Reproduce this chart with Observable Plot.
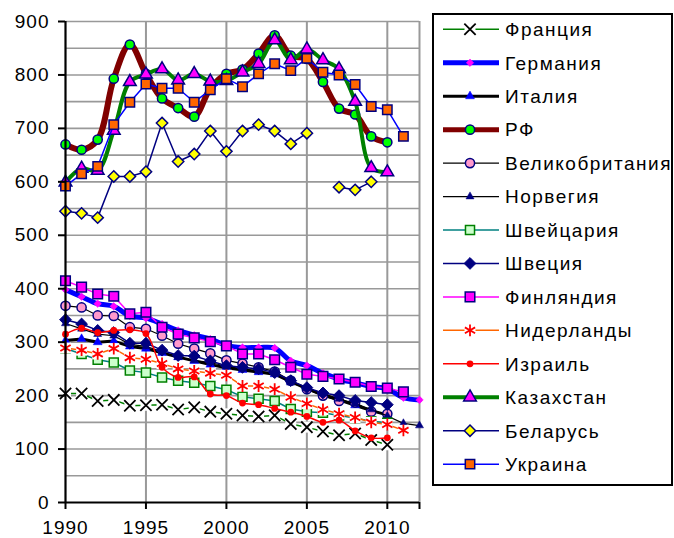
<!DOCTYPE html>
<html><head><meta charset="utf-8">
<script src="https://cdn.jsdelivr.net/npm/d3@7"></script>
<script src="https://cdn.jsdelivr.net/npm/@observablehq/plot@0.6"></script>
<style>
body{margin:0;background:#fff;}
#wrap{position:relative;width:674px;height:538px;font-family:"Liberation Sans",Arial,sans-serif;}
#wrap svg{position:absolute;left:0;top:0;}
</style></head><body><div id="wrap"></div>
<script>
const years = d3.range(1990, 2013);
const xTicks = [1990, 1995, 2000, 2005, 2010];
const yTicks = [0, 100, 200, 300, 400, 500, 600, 700, 800, 900];

const france      = [204,204,190,192,181,182,183,174,178,170,166,163,161,163,147,141,133,126,129,117,108,null,null];
const germany     = [398,385,372,367,349,345,334,322,313,306,294,290,290,289,265,256,242,231,224,217,213,196,192];
const italy       = [303,306,300,302,292,288,280,272,265,258,252,248,244,240,226,213,201,192,182,172,164,null,null];
const russia      = [670,660,679,793,857,802,756,738,722,775,802,810,840,874,836,830,787,737,726,685,674,null,null];
const uk          = [368,365,350,349,328,325,312,297,288,279,266,260,253,245,228,212,200,190,187,170,166,null,null];
const norway      = [335,325,315,312,296,292,282,272,266,262,255,250,246,241,224,214,204,194,185,174,162,148,144];
const switzerland = [288,278,267,262,247,243,234,228,224,218,211,198,194,190,175,170,168,163,158,152,149,null,null];
const sweden      = [342,334,322,318,298,298,285,275,274,265,256,253,250,243,228,215,205,200,191,187,183,null,null];
const finland     = [415,403,390,386,353,356,328,315,308,301,293,278,278,267,253,240,236,231,225,217,214,207,null];
const netherlands = [289,285,278,288,271,268,260,250,246,242,238,218,218,212,197,185,174,166,159,150,146,135,null];
const israel      = [315,326,318,322,323,316,253,234,235,203,200,186,183,176,169,161,150,154,134,121,121,null,null];
const kazakhstan  = [599,625,621,696,787,801,811,790,802,788,789,805,821,865,828,848,828,811,750,626,618,null,null];
const belarus     = [545,541,533,610,610,619,710,638,652,695,657,695,707,695,671,691,null,590,585,600,null,null,null];
const ukraine     = [592,615,629,707,749,783,775,775,749,772,793,778,802,821,808,831,805,800,782,741,735,685,null];

const names = ["Франция","Германия","Италия","РФ","Великобритания","Норвегия","Швейцария","Швеция","Финляндия","Нидерланды","Израиль","Казахстан","Беларусь","Украина"];
const values = [france,germany,italy,russia,uk,norway,switzerland,sweden,finland,netherlands,israel,kazakhstan,belarus,ukraine];

const styles = [
  {line:"#008000", lw:1.5, sym:"times", r:5.2, fill:"none", stroke:"#000000", sw:1.8, bg:true},
  {line:"#0000FF", lw:5, curve:true, sym:"diamond2", r:3.4, fill:"#FF00FF", stroke:"#FF00FF", sw:0.5},
  {line:"#000000", lw:3, sym:"triangle", r:3.3, fill:"#0000FF", stroke:"#0000FF", sw:0.5},
  {line:"#800000", lw:6, curve:true, sym:"circle", r:4.6, fill:"#00FF00", stroke:"#000080", sw:1.5},
  {line:"#000000", lw:1.2, sym:"circle", r:4.6, fill:"#FF99CC", stroke:"#000080", sw:1.5},
  {line:"#000000", lw:1.2, sym:"triangle", r:3, fill:"#000080", stroke:"#000080", sw:0.5},
  {line:"#008080", lw:1.5, sym:"square", r:5.1, fill:"#CCFFCC", stroke:"#008000", sw:1.5},
  {line:"#000080", lw:1.5, sym:"diamond2", r:5.3, fill:"#000080", stroke:"#000080", sw:1},
  {line:"#FF00FF", lw:1.5, sym:"square", r:5.4, fill:"#FF00FF", stroke:"#000080", sw:1.5},
  {line:"#FF6600", lw:1.5, sym:"asterisk", r:5.6, fill:"none", stroke:"#FF0000", sw:1.8, bg:true},
  {line:"#FF0000", lw:1.5, curve:true, sym:"circle", r:3.4, fill:"#FF0000", stroke:"#FF0000", sw:0},
  {line:"#008000", lw:4, curve:true, sym:"triangle", r:4.7, fill:"#FF00FF", stroke:"#000080", sw:1.5},
  {line:"#000080", lw:1.5, sym:"diamond2", r:5.1, fill:"#FFFF00", stroke:"#000080", sw:1.5},
  {line:"#0000FF", lw:1.5, sym:"square", r:5.3, fill:"#FF6600", stroke:"#000080", sw:1.5}
];

const seriesMarks = [];
names.forEach((name, i) => {
  const data = years.map((y, j) => ({year: y, value: values[i][j]}));
  const s = styles[i];
  seriesMarks.push(Plot.line(data, {x: "year", y: "value", stroke: s.line, strokeWidth: s.lw,
    curve: s.curve ? "catmull-rom" : "linear", strokeLinejoin: "round"}));
  const pts = data.filter(d => d.value != null);
  if (s.bg) seriesMarks.push(Plot.dot(pts, {x: "year", y: "value", symbol: "square", r: 6.2, fill: "#fff", stroke: "none"}));
  seriesMarks.push(Plot.dot(pts, {x: "year", y: "value", symbol: s.sym, r: s.r, fill: s.fill, stroke: s.stroke, strokeWidth: s.sw}));
});

const chart = Plot.plot({
  width: 430, height: 538,
  marginLeft: 65, marginRight: 11, marginTop: 21, marginBottom: 36,
  x: {domain: [1990, 2012], label: null},
  y: {domain: [0, 900], label: null},
  style: "font-family:'Liberation Sans',Arial,sans-serif;font-size:19px;letter-spacing:1px;color:#000;background:transparent;overflow:visible;",
  marks: [
    Plot.gridY(d3.range(50, 901, 50), {stroke: "#999", strokeOpacity: 1, strokeWidth: 1.6}),
    Plot.gridX([1995, 2000, 2005, 2010, 2012], {stroke: "#999", strokeOpacity: 1, strokeWidth: 2}),
    ...seriesMarks,
    Plot.ruleX([1990], {stroke: "#000", strokeWidth: 2.2}),
    Plot.ruleY([0], {stroke: "#000", strokeWidth: 2.2}),
    Plot.axisY(yTicks, {tickSize: 7, tickPadding: 9, strokeWidth: 2, stroke: "#000", label: null, tickFormat: d => String(d)}),
    Plot.axisX(xTicks, {tickSize: 7, tickPadding: 11, strokeWidth: 2, stroke: "#000", label: null, tickFormat: d => String(d)}),
    Plot.axisX([2012], {tickSize: 7, strokeWidth: 2, stroke: "#000", label: null, tickFormat: () => ""})
  ]
});
const wrap = document.getElementById("wrap");
wrap.appendChild(chart);

// legend
const symMap = {times: d3.symbolTimes, asterisk: d3.symbolAsterisk, diamond2: d3.symbolDiamond2,
  triangle: d3.symbolTriangle, square: d3.symbolSquare, circle: d3.symbolCircle};
const leg = d3.select(wrap).append("svg").attr("width", 674).attr("height", 538)
  .style("font-family", "'Liberation Sans',Arial,sans-serif").style("font-size", "19px").style("letter-spacing", "1.5px");
leg.append("rect").attr("x", 433).attr("y", 14).attr("width", 239).attr("height", 471)
  .attr("fill", "#fff").attr("stroke", "#000").attr("stroke-width", 2);
names.forEach((name, i) => {
  const s = styles[i];
  const cy = 29.3 + i * 33.45;
  const g = leg.append("g");
  g.append("line").attr("x1", 443).attr("x2", 499).attr("y1", cy).attr("y2", cy)
    .attr("stroke", s.line).attr("stroke-width", Math.min(s.lw, 5));
  if (s.bg) g.append("path").attr("transform", `translate(470,${cy})`)
    .attr("d", d3.symbol(d3.symbolSquare, Math.PI * 6.2 * 6.2)()).attr("fill", "#fff");
  g.append("path").attr("transform", `translate(470,${cy})`)
    .attr("d", d3.symbol(symMap[s.sym], Math.PI * s.r * s.r)())
    .attr("fill", s.fill).attr("stroke", s.stroke).attr("stroke-width", s.sw);
  g.append("text").attr("x", 505).attr("y", cy).attr("dy", "0.36em").attr("fill", "#000").text(name);
});
</script></body></html>
